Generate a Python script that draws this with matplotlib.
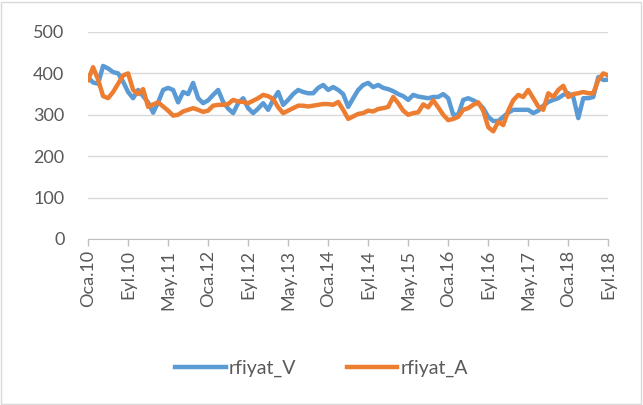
import matplotlib.pyplot as plt
from matplotlib.patches import Rectangle

# monthly series, Oca.2010 - Eyl.2018
months_tr = ["Oca", "Şub", "Mar", "Nis", "May", "Haz", "Tem", "Ağu", "Eyl", "Eki", "Kas", "Ara"]
labels = [f"{months_tr[m]}.{y % 100:02d}" for y in range(2010, 2019) for m in range(12)][:105]

rfiyat_V = [390, 378, 375, 418, 412, 403, 400, 380, 355, 340, 360, 345, 330, 305, 330,
            360, 365, 360, 330, 355, 350, 377, 340, 328, 335, 348, 360, 331, 315, 304,
            328, 340, 316, 304, 315, 328, 312, 336, 355, 324, 336, 350, 360, 355, 352,
            352, 365, 372, 360, 367, 360, 350, 319, 340, 360, 372, 377, 367, 372, 365,
            362, 357, 350, 345, 336, 348, 344, 342, 340, 343, 343, 350, 340, 300, 300,
            336, 340, 335, 328, 316, 295, 285, 285, 295, 305, 312, 312, 312, 312, 304,
            310, 322, 331, 336, 340, 348, 352, 343, 292, 340, 340, 343, 391, 384, 385]

rfiyat_A = [384, 415, 385, 345, 340, 355, 375, 395, 400, 360, 350, 362, 319, 325, 330,
            320, 310, 298, 300, 308, 312, 316, 312, 307, 310, 322, 324, 324, 326, 336,
            332, 331, 328, 334, 340, 348, 345, 338, 318, 304, 310, 316, 322, 322, 320,
            322, 324, 326, 326, 324, 331, 312, 290, 296, 302, 304, 310, 308, 314, 316,
            319, 343, 328, 310, 300, 304, 306, 325, 318, 335, 318, 300, 287, 290, 295,
            312, 316, 324, 330, 310, 270, 260, 283, 275, 310, 335, 348, 343, 360, 340,
            320, 312, 352, 343, 360, 370, 343, 350, 352, 355, 352, 352, 384, 400, 395]

plt.rcParams['font.family'] = ['Lato', 'DejaVu Sans']

fig = plt.figure(figsize=(6.43, 4.05), dpi=100)
ax = fig.add_axes([0.137, 0.41, 0.809, 0.511])
fig.patches.append(Rectangle((0.002, 0.003), 0.995, 0.993, transform=fig.transFigure,
                             fill=False, edgecolor='#d9d9d9', linewidth=1))

x = list(range(len(labels)))
ax.plot(x, rfiyat_V, color='#5B9BD5', linewidth=3.2, label='rfiyat_V')
ax.plot(x, rfiyat_A, color='#ED7D31', linewidth=3.2, label='rfiyat_A')

ax.set_xlim(0, 104)
ax.set_ylim(0, 500)
ax.set_yticks(range(0, 501, 100))
ax.set_xticks(x[::8])
ax.set_xticklabels(labels[::8], rotation=90)
ax.tick_params(axis='y', length=0, labelsize=13, colors='#595959', pad=17)
ax.tick_params(axis='x', length=5, width=1, color='#bfbfbf', labelsize=13,
               labelcolor='#595959', pad=3)
ax.grid(axis='y', color='#d9d9d9', linewidth=1)
ax.set_axisbelow(True)
for s in ['top', 'right', 'left']:
    ax.spines[s].set_visible(False)
ax.spines['bottom'].set_color('#bfbfbf')

leg = fig.legend(loc='center', bbox_to_anchor=(0.5, 0.09), ncol=2, frameon=False,
                 fontsize=14, handlelength=2.6, handletextpad=0.15, columnspacing=2.6)
for t in leg.get_texts():
    t.set_color('#595959')

fig.savefig('out.png', dpi=100)
